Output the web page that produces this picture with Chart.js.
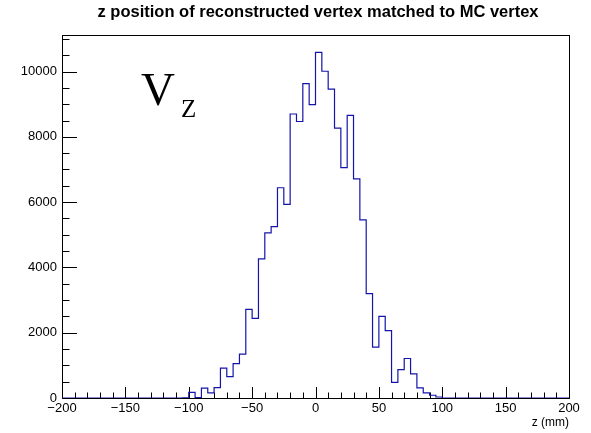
<!DOCTYPE html>
<html lang="en">
<head>
  <meta charset="UTF-8" />
  <title>z position of reconstructed vertex</title>
  <script src="https://cdn.jsdelivr.net/npm/chart.js"></script>
  <style>
    html, body { margin: 0; padding: 0; background: #fff; }
    canvas { display: block; }
  </style>
</head>
<body>
<canvas id="vzChart" width="591" height="433"></canvas>

<script>
// histogram binning (mm)
const binLow = -200;
const binWidth = 5;

// bin contents, one per 5 mm bin from -200 to 200
const counts = [
  0, 0, 0, 0, 0, 0, 0, 0, 0, 0,            // -200 .. -155
  0, 0, 0, 0, 0, 0, 0, 0, 0, 5,            // -150 .. -105
  170, 15, 300, 155, 320, 915, 655, 1050, 1345, 2715,       // -100 .. -55
  2440, 4260, 5060, 5250, 6440, 5930, 8700, 8470, 9630, 8990, // -50 .. -5
  10590, 10010, 9460, 8270, 7055, 8655, 6710, 5455, 3200, 1560, // 0 .. 45
  2500, 2065, 480, 868, 1210, 740, 312, 160, 85, 30,        // 50 .. 95
  0, 0, 0, 0, 0, 0, 0, 0, 0, 0,            // 100 .. 145
  0, 0, 0, 0, 0, 0, 0, 0, 0, 0             // 150 .. 195
];

const xTicks = [-200, -150, -100, -50, 0, 50, 100, 150, 200];
const yTicks = [0, 2000, 4000, 6000, 8000, 10000];
const xMinorStep = 10;
const yMinorStep = 500;

const titleText = 'z position of reconstructed vertex matched to MC vertex';
const xTitle = 'z (mm)';

const FONT = "'Liberation Sans', Arial, Helvetica, sans-serif";

// points at each bin low edge, plus closing edge
const points = counts.map((c, i) => ({ x: binLow + i * binWidth, y: c }));
points.push({ x: binLow + counts.length * binWidth, y: counts[counts.length - 1] });

// frame, ROOT-like inner ticks, title and V_z label
const rootFrame = {
  id: 'rootFrame',
  beforeDatasetsDraw(chart) {
    const ctx = chart.ctx;
    const a = chart.chartArea;
    const xs = chart.scales.x, ys = chart.scales.y;
    ctx.save();
    ctx.strokeStyle = '#000';
    ctx.lineWidth = 1;
    ctx.strokeRect(Math.round(a.left) + 0.5, Math.round(a.top) + 0.5,
                   Math.round(a.right - a.left), Math.round(a.bottom - a.top));

    ctx.beginPath();
    // x ticks
    for (let v = xs.min; v <= xs.max + 1e-9; v += xMinorStep) {
      const px = Math.round(xs.getPixelForValue(v)) + 0.5;
      const len = xTicks.includes(v) ? 11 : 5.5;
      ctx.moveTo(px, a.bottom);
      ctx.lineTo(px, a.bottom - len);
    }
    // y ticks
    for (let v = ys.min; v <= ys.max + 1e-9; v += yMinorStep) {
      const py = Math.round(ys.getPixelForValue(v)) + 0.5;
      const len = yTicks.includes(v) ? 15 : 7.5;
      ctx.moveTo(a.left, py);
      ctx.lineTo(a.left + len, py);
    }
    ctx.stroke();
    ctx.restore();
  },
  afterDraw(chart) {
    const ctx = chart.ctx;
    ctx.save();
    ctx.fillStyle = '#000';
    ctx.textAlign = 'center';
    ctx.textBaseline = 'alphabetic';
    ctx.font = 'bold 16.5px ' + FONT;
    ctx.fillText(titleText, 318, 17);

    ctx.textAlign = 'left';
    ctx.font = "47px 'Liberation Serif', 'Times New Roman', serif";
    ctx.fillText('V', 141, 105);
    ctx.font = "25px 'Liberation Serif', 'Times New Roman', serif";
    ctx.fillText('Z', 181, 117);
    ctx.restore();
  }
};

new Chart(document.getElementById('vzChart'), {
  type: 'line',
  data: {
    datasets: [{
      data: points,
      stepped: 'before',
      borderColor: '#1414aa',
      borderWidth: 1.2,
      pointRadius: 0,
      fill: false
    }]
  },
  options: {
    responsive: false,
    animation: false,
    devicePixelRatio: 1,
    layout: { padding: { top: 35, right: 22, bottom: 0, left: 0 } },
    plugins: {
      legend: { display: false },
      tooltip: { enabled: false }
    },
    scales: {
      x: {
        type: 'linear',
        min: -200,
        max: 200,
        grid: { display: false, drawTicks: false },
        border: { display: false },
        afterBuildTicks: s => { s.ticks = xTicks.map(v => ({ value: v })); },
        afterFit: s => { s.height = 35; },
        ticks: {
          color: '#000',
          padding: 3,
          maxRotation: 0,
          autoSkip: false,
          font: { family: FONT, size: 13 },
          callback: v => String(v).replace('-', '\u2212')
        },
        title: {
          display: true,
          text: xTitle,
          align: 'end',
          color: '#000',
          font: { family: FONT, size: 12 },
          padding: { top: 0, bottom: 3 }
        }
      },
      y: {
        type: 'linear',
        min: 0,
        max: 11120,
        grid: { display: false, drawTicks: false },
        border: { display: false },
        afterBuildTicks: s => { s.ticks = yTicks.map(v => ({ value: v })); },
        afterFit: s => { s.width = 62; },
        ticks: {
          color: '#000',
          padding: 5,
          autoSkip: false,
          font: { family: FONT, size: 13 },
          callback: v => String(v)
        }
      }
    }
  },
  plugins: [rootFrame]
});
</script>
</body>
</html>
